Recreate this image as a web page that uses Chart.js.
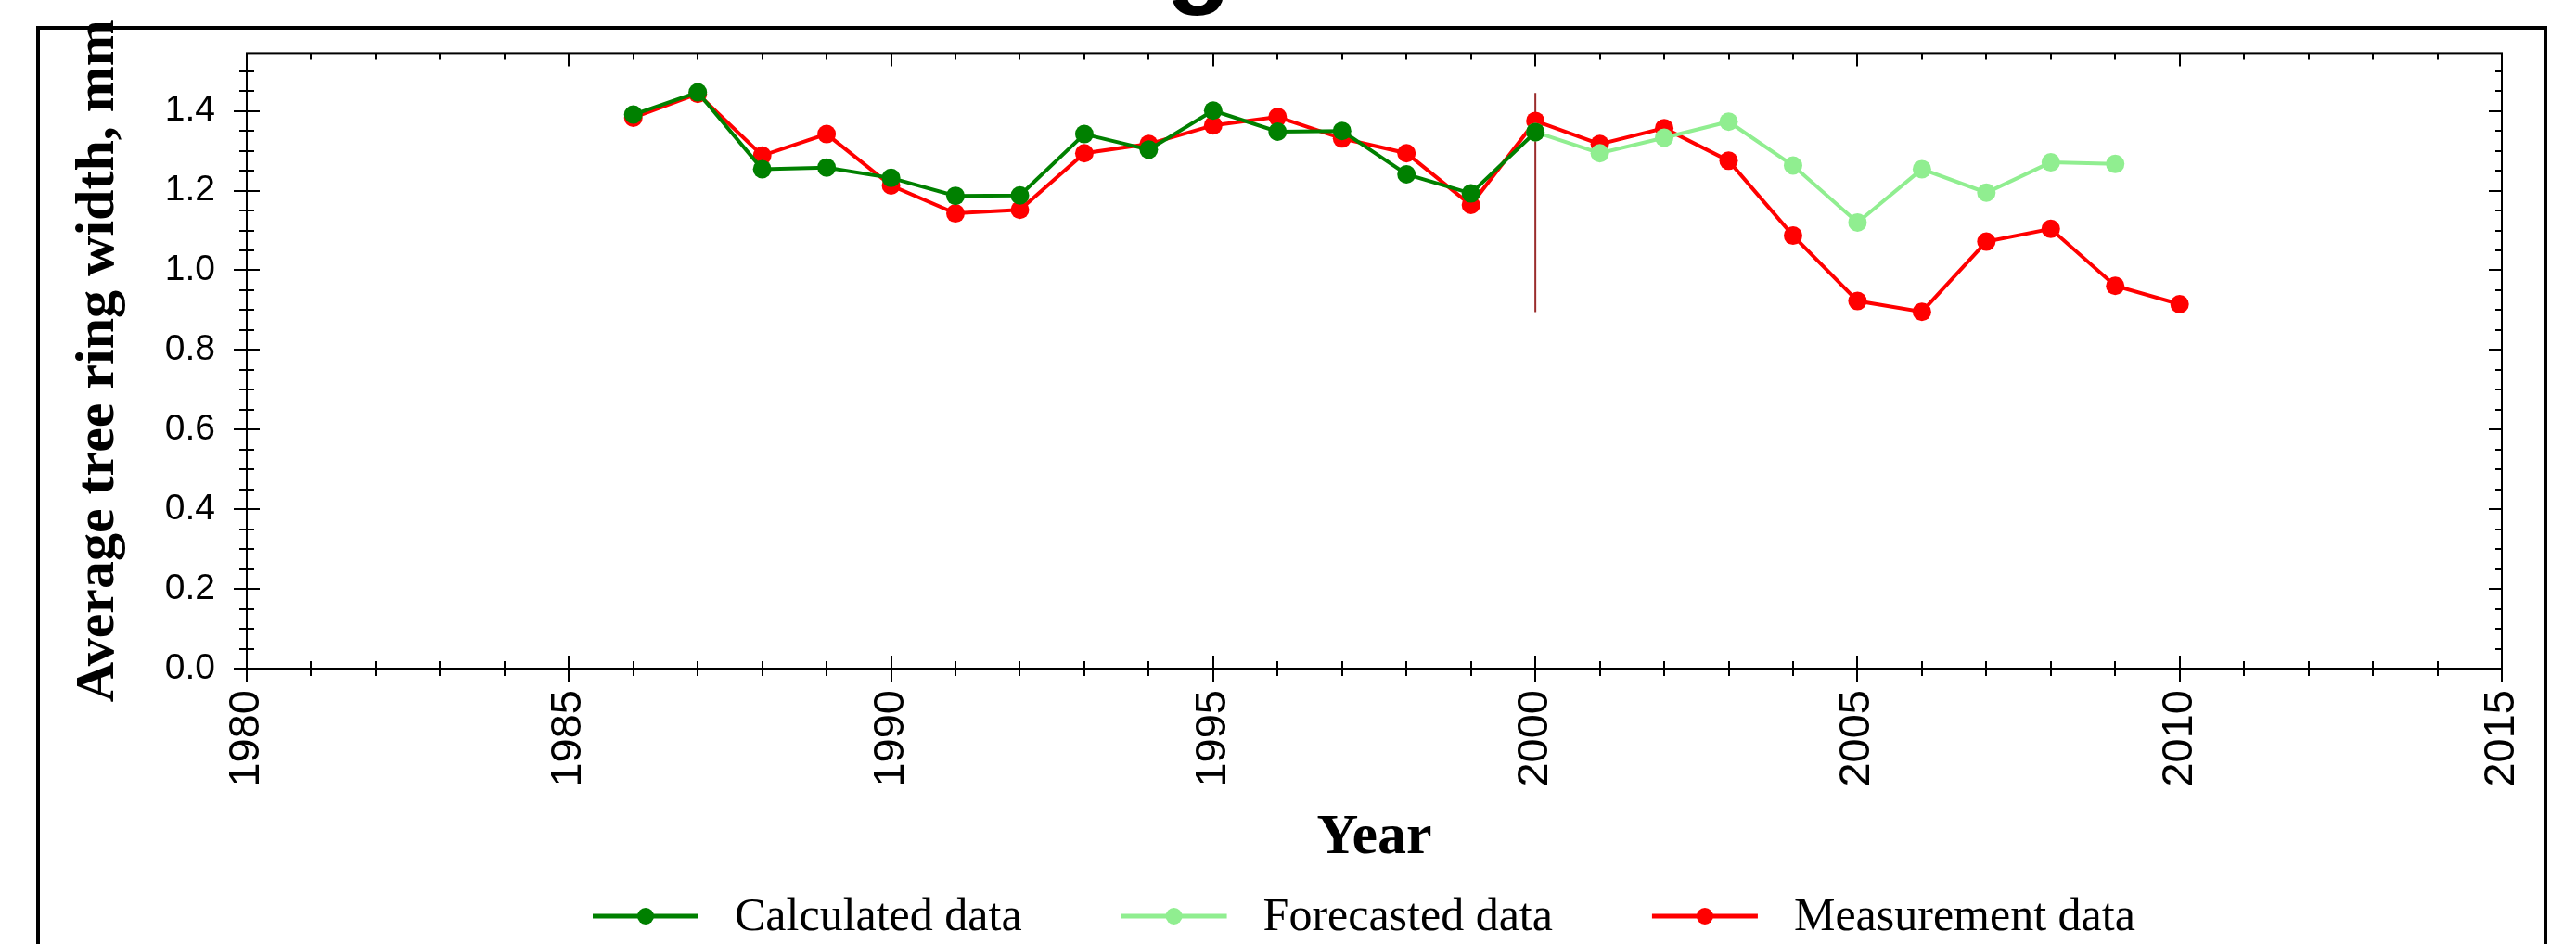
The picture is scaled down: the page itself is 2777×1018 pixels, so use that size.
<!DOCTYPE html>
<html>
<head>
<meta charset="utf-8">
<title>Average tree ring width</title>
<script src="https://cdn.jsdelivr.net/npm/chart.js@4.4.1/dist/chart.umd.min.js"></script>
<style>
  html,body{margin:0;padding:0;background:#fff;}
  #wrap{position:relative;width:2777px;height:1018px;overflow:hidden;}
</style>
</head>
<body>
<div id="wrap"><canvas id="chart" width="2777" height="1018"></canvas></div>
<script>
// values
const calcYears = [1986,1987,1988,1989,1990,1991,1992,1993,1994,1995,1996,1997,1998,1999,2000];
const calcValues = [1.391,1.447,1.254,1.258,1.232,1.187,1.188,1.342,1.303,1.401,1.348,1.350,1.241,1.193,1.347];

const forecastYears = [2000,2001,2002,2003,2004,2005,2006,2007,2008,2009];
const forecastValues = [1.347,1.294,1.333,1.373,1.263,1.120,1.254,1.195,1.271,1.267];

const measureYears = [1986,1987,1988,1989,1990,1991,1992,1993,1994,1995,1996,1997,1998,1999,2000,2001,2002,2003,2004,2005,2006,2007,2008,2009,2010];
const measureValues = [1.383,1.443,1.288,1.342,1.213,1.143,1.152,1.294,1.317,1.364,1.385,1.331,1.294,1.164,1.375,1.317,1.357,1.275,1.087,0.923,0.896,1.072,1.104,0.961,0.915];

// marker line at the end of the calibration period
const cutoffYear = 2000;
const cutoffRange = [0.895, 1.445];

const xTicks = [1980,1985,1990,1995,2000,2005,2010,2015];
const yTicks = [0,0.2,0.4,0.6,0.8,1.0,1.2,1.4];

const seriesNames = ['Calculated data','Forecasted data','Measurement data'];
const seriesColors = ['#008000','#90ee90','#ff0000'];

function pts(xs, ys){ return xs.map((x,i)=>({x:x, y:ys[i]})); }

const SANS = '"Liberation Sans", Arial, sans-serif';
const SERIF = '"Liberation Serif", "Times New Roman", serif';

// frame, box, ticks and legend drawn by hand
const decor = {
  id:'decor',
  beforeDraw(chart){
    const ctx = chart.ctx;
    ctx.save();
    ctx.fillStyle = '#fff';
    ctx.fillRect(0,0,chart.width,chart.height);
    // bottom of a cropped heading glyph above the frame
    ctx.fillStyle = '#000';
    ctx.font = 'bold 115px ' + SANS;
    ctx.textAlign = 'center';
    ctx.textBaseline = 'alphabetic';
    ctx.fillText('g', 1292, -7);
    ctx.strokeStyle = '#000';
    ctx.lineWidth = 4;
    ctx.beginPath();
    ctx.moveTo(41, chart.height+10);
    ctx.lineTo(41, 30);
    ctx.lineTo(2744, 30);
    ctx.lineTo(2744, chart.height+10);
    ctx.stroke();
    ctx.restore();
  },
  afterDraw(chart){
    const ctx = chart.ctx, a = chart.chartArea;
    const xs = chart.scales.x, ys = chart.scales.y;
    ctx.save();
    ctx.strokeStyle = '#000';
    ctx.lineWidth = 2;
    ctx.strokeRect(a.left, a.top, a.right-a.left, a.bottom-a.top);
    ctx.beginPath();
    for(let yr=1980; yr<=2015; yr++){
      const px = Math.round(xs.getPixelForValue(yr));
      const major = yr%5===0;
      const L = major?14:8;
      ctx.moveTo(px, a.bottom-L); ctx.lineTo(px, a.bottom+L);
      ctx.moveTo(px, a.top); ctx.lineTo(px, a.top+(major?14:7));
    }
    for(let i=0;i<=30;i++){
      const py = Math.round(ys.getPixelForValue(i*0.05));
      const major = i%4===0;
      const L = major?14:8;
      ctx.moveTo(a.left-L, py); ctx.lineTo(a.left+L, py);
      ctx.moveTo(a.right, py); ctx.lineTo(a.right-(major?14:7), py);
    }
    ctx.stroke();

    // legend
    const ly = 988;
    ctx.font = '50px ' + SERIF;
    ctx.textBaseline = 'middle';
    ctx.fillStyle = '#000';
    let x = 639;
    seriesNames.forEach((name,i)=>{
      ctx.strokeStyle = seriesColors[i];
      ctx.lineWidth = 5;
      ctx.beginPath(); ctx.moveTo(x, ly); ctx.lineTo(x+114, ly); ctx.stroke();
      ctx.fillStyle = seriesColors[i];
      ctx.beginPath(); ctx.arc(x+57, ly, 9, 0, Math.PI*2); ctx.fill();
      ctx.fillStyle = '#000';
      ctx.fillText(name, x+153, ly+2);
      x += 153 + ctx.measureText(name).width + 107;
    });
    ctx.restore();
  }
};

const ctx = document.getElementById('chart');
new Chart(ctx, {
  type:'line',
  data:{
    datasets:[
      { label:seriesNames[0], data:pts(calcYears, calcValues), borderColor:seriesColors[0], backgroundColor:seriesColors[0],
        borderWidth:4, pointRadius:10, pointBorderWidth:0, pointBackgroundColor:seriesColors[0] },
      { label:seriesNames[1], data:pts(forecastYears, forecastValues), borderColor:seriesColors[1], backgroundColor:seriesColors[1],
        borderWidth:4, pointRadius:10, pointBorderWidth:0, pointBackgroundColor:seriesColors[1] },
      { label:seriesNames[2], data:pts(measureYears, measureValues), borderColor:seriesColors[2], backgroundColor:seriesColors[2],
        borderWidth:4, pointRadius:10, pointBorderWidth:0, pointBackgroundColor:seriesColors[2] },
      { label:'cutoff', data:cutoffRange.map(v=>({x:cutoffYear, y:v})), borderColor:'#9a2c2c',
        borderWidth:2, pointRadius:0 }
    ]
  },
  options:{
    responsive:false,
    animation:false,
    devicePixelRatio:1,
    layout:{ padding:{ left:0, top:56, right:80, bottom:0 } },
    plugins:{ legend:{display:false}, tooltip:{enabled:false}, title:{display:false} },
    scales:{
      x:{
        type:'linear', min:1980, max:2015,
        grid:{display:false, drawTicks:false},
        border:{display:false},
        afterBuildTicks(s){ s.ticks = xTicks.map(v=>({value:v})); },
        afterFit(s){ s.height = 1018-721; },
        ticks:{ autoSkip:false, minRotation:90, maxRotation:90, padding:23, color:'#000',
          font:{family:SANS, size:47}, callback:v=>String(v) },
        title:{ display:true, text:'Year', color:'#000', padding:{top:0, bottom:77},
          font:{family:SERIF, size:62, weight:'bold'} }
      },
      y:{
        type:'linear', min:0, max:1.545,
        grid:{display:false, drawTicks:false},
        border:{display:false},
        afterBuildTicks(s){ s.ticks = yTicks.map(v=>({value:v})); },
        afterFit(s){ s.width = 266; },
        ticks:{ padding:34, color:'#000', font:{family:SANS, size:39}, callback:v=>v.toFixed(1) },
        title:{ display:true, text:'Average tree ring width, mm', color:'#000', padding:{top:70, bottom:0},
          font:{family:SERIF, size:60, weight:'bold'} }
      }
    }
  },
  plugins:[decor]
});
</script>
</body>
</html>
